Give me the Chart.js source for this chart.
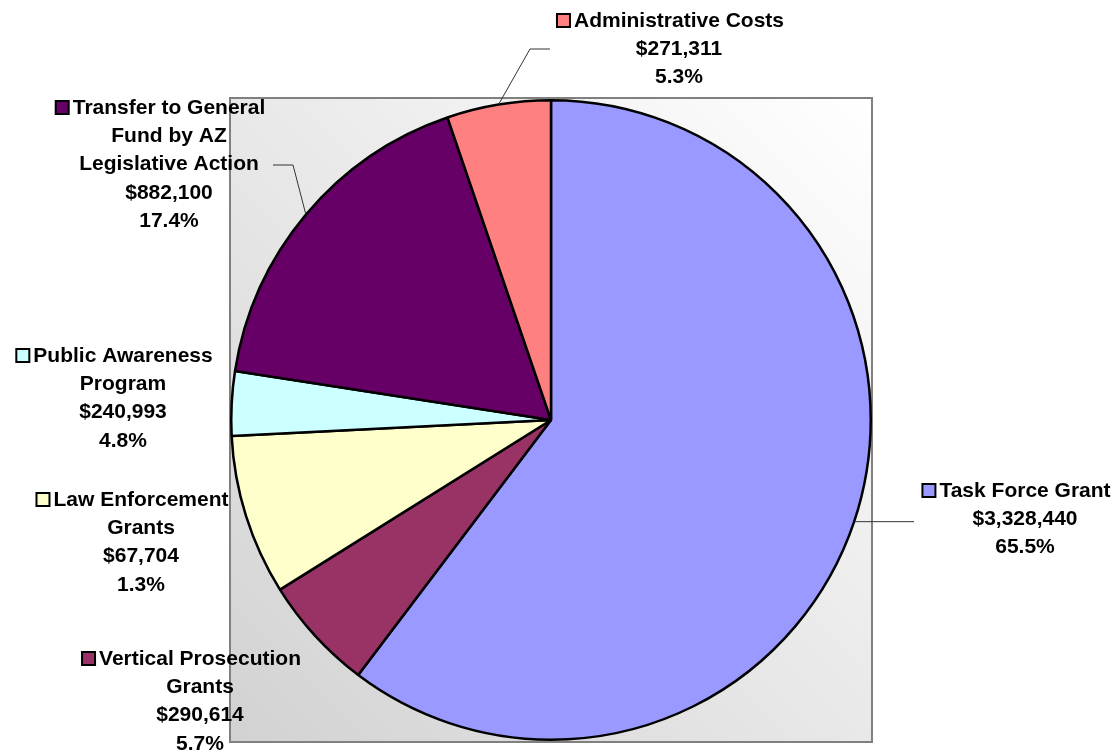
<!DOCTYPE html>
<html>
<head>
<meta charset="utf-8">
<script src="https://cdn.jsdelivr.net/npm/chart.js@4/dist/chart.umd.min.js"></script>
<style>
  html, body { margin: 0; padding: 0; background: #ffffff; }
  #wrap { width: 1119px; height: 752px; }
</style>
</head>
<body>
<div id="wrap"><canvas id="c" width="1119" height="752"></canvas></div>
<script>
// ---- data ----
const categories = [
  "Task Force Grant",
  "Vertical Prosecution Grants",
  "Law Enforcement Grants",
  "Public Awareness Program",
  "Transfer to General Fund by AZ Legislative Action",
  "Administrative Costs"
];
// slice sizes as drawn in the picture (share of the circle, %)
const sliceShares = [60.3, 5.8, 8.1, 3.25, 17.3, 5.25];
const amountLabels = ["$3,328,440", "$290,614", "$67,704", "$240,993", "$882,100", "$271,311"];
const percentLabels = ["65.5%", "5.7%", "1.3%", "4.8%", "17.4%", "5.3%"];
const nameLines = [
  ["Task Force Grant"],
  ["Vertical Prosecution", "Grants"],
  ["Law Enforcement", "Grants"],
  ["Public Awareness", "Program"],
  ["Transfer to General", "Fund by AZ", "Legislative Action"],
  ["Administrative Costs"]
];
const sliceColors = ["#9999FF", "#993366", "#FFFFCC", "#CCFFFF", "#660066", "#FF8080"];

// ---- label layout (text centre x, first line centre y, leader path after arc midpoint) ----
const labelLayout = [
  { x: 1025, y: 491, leader: [[914, null]] },
  { x: 200, y: 659, leader: null },
  { x: 141, y: 500, leader: null },
  { x: 123, y: 356, leader: null },
  { x: 169, y: 108, leader: [[293, 165], [273, 165]] },
  { x: 679, y: 21, leader: [[530, 49], [550, 49]] }
];
const LINE_H = 28.3;
const FONT = "bold 21px 'Liberation Sans', Arial, sans-serif";

const plotBox = {
  id: 'plotBox',
  beforeDatasetsDraw(chart) {
    const { ctx, chartArea: a } = chart;
    ctx.save();
    const g = ctx.createLinearGradient(a.right, a.top, a.left, a.bottom);
    g.addColorStop(0, '#ffffff');
    g.addColorStop(1, '#d2d2d2');
    ctx.fillStyle = g;
    ctx.fillRect(a.left, a.top - 1, a.right - a.left, a.bottom - a.top + 2);
    ctx.strokeStyle = '#808080';
    ctx.lineWidth = 2;
    ctx.strokeRect(a.left, a.top - 1, a.right - a.left, a.bottom - a.top + 2);
    ctx.restore();
  }
};

const outLabels = {
  id: 'outLabels',
  afterDatasetsDraw(chart) {
    const { ctx } = chart;
    const meta = chart.getDatasetMeta(0);
    ctx.save();
    // leader lines
    ctx.strokeStyle = '#333333';
    ctx.lineWidth = 1;
    meta.data.forEach((arc, i) => {
      const L = labelLayout[i];
      if (!L.leader) return;
      const p = arc.getProps(['x', 'y', 'startAngle', 'endAngle', 'outerRadius'], true);
      const mid = (p.startAngle + p.endAngle) / 2;
      const sx = p.x + Math.cos(mid) * p.outerRadius;
      const sy = p.y + Math.sin(mid) * p.outerRadius;
      ctx.beginPath();
      ctx.moveTo(sx, sy);
      L.leader.forEach(pt => ctx.lineTo(pt[0], pt[1] === null ? sy : pt[1]));
      ctx.stroke();
    });
    // texts
    ctx.font = FONT;
    ctx.textAlign = 'center';
    ctx.textBaseline = 'middle';
    ctx.fillStyle = '#000000';
    categories.forEach((c, i) => {
      const L = labelLayout[i];
      const lines = nameLines[i].concat([amountLabels[i], percentLabels[i]]);
      lines.forEach((t, k) => {
        ctx.fillText(t, L.x, L.y + k * LINE_H);
      });
      // legend key before first line
      const w = ctx.measureText(lines[0]).width;
      const kx = L.x - w / 2 - 4 - 13;
      const ky = L.y - 7;
      ctx.fillStyle = sliceColors[i];
      ctx.fillRect(kx, ky, 13, 13);
      ctx.lineWidth = 2;
      ctx.strokeStyle = '#000000';
      ctx.strokeRect(kx, ky, 13, 13);
      ctx.fillStyle = '#000000';
    });
    ctx.restore();
  }
};

new Chart(document.getElementById('c'), {
  type: 'pie',
  data: {
    labels: categories,
    datasets: [{
      data: sliceShares,
      backgroundColor: sliceColors,
      borderColor: '#000000',
      borderWidth: 2.5
    }]
  },
  options: {
    responsive: false,
    animation: false,
    layout: { padding: { left: 230, right: 247, top: 99, bottom: 11 } },
    plugins: { legend: { display: false }, tooltip: { enabled: false } }
  },
  plugins: [plotBox, outLabels]
});
</script>
</body>
</html>
